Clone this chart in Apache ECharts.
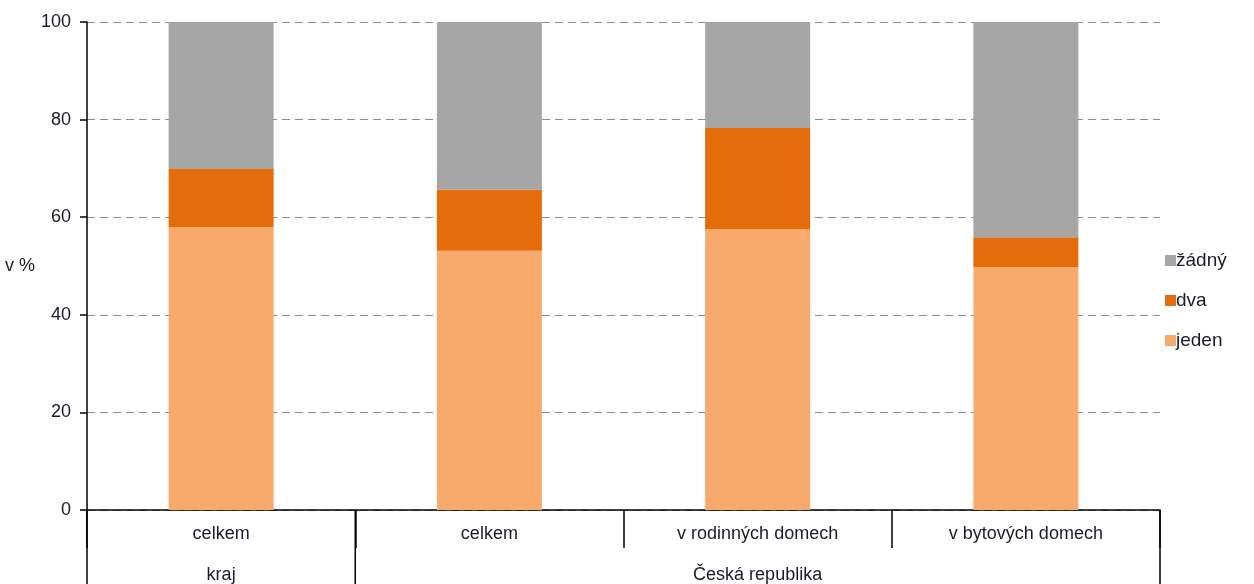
<!DOCTYPE html>
<html>
<head>
<meta charset="utf-8">
<script src="https://cdn.jsdelivr.net/npm/echarts@6/dist/echarts.min.js"></script>
<style>
  html, body { margin: 0; padding: 0; background: #fff; }
  #chart { width: 1254px; height: 584px; }
</style>
</head>
<body>
<div id="chart"></div>
<script>
  // kategorie a skupiny
  var categories = ['celkem', 'celkem', 'v rodinných domech', 'v bytových domech'];
  var groupLabels = ['kraj', '', 'Česká republika', ''];
  var groupStarts = [0, 1];          // index kategorie, kde skupina začíná
  var yTicks = [0, 20, 40, 60, 80, 100];

  // hodnoty v %
  var jeden = [58.0, 53.1, 57.6, 49.8];
  var dva   = [11.9, 12.5, 20.7, 6.1];
  var zadny = [30.1, 34.4, 21.7, 44.1];

  var font = 'Liberation Sans, Arial, sans-serif';
  var txt = '#1a1a2e';
  var fs = 18;

  var myChart = echarts.init(document.getElementById('chart'));

  myChart.setOption({
    animation: false,
    grid: { left: 87, right: 94, top: 22, bottom: 74, containLabel: false, outerBoundsMode: 'none' },
    legend: {
      orient: 'vertical',
      left: 1160,
      top: 246,
      itemGap: 21,
      itemWidth: 11,
      itemHeight: 11,
      icon: 'rect',
      data: ['žádný', 'dva', 'jeden'],
      textStyle: { fontFamily: font, fontSize: 19, color: txt, padding: [0, 0, 0, -5] }
    },
    xAxis: [{
      type: 'category',
      data: categories,
      position: 'bottom',
      axisLine: { lineStyle: { color: '#000', width: 1.5 } },
      axisTick: { show: true, length: 38, lineStyle: { color: '#000', width: 1.5 } },
      axisLabel: { interval: 0, margin: 15, fontFamily: font, fontSize: fs, color: txt }
    }, {
      type: 'category',
      data: groupLabels,
      position: 'bottom',
      offset: 41,
      axisLine: { show: false },
      axisTick: { show: false },
      axisLabel: { interval: 0, margin: 15, fontFamily: font, fontSize: fs, color: txt }
    }],
    yAxis: {
      type: 'value',
      min: 0,
      max: 100,
      interval: 20,
      name: 'v %',
      nameLocation: 'middle',
      nameRotate: 0,
      nameGap: 47,
      nameTextStyle: { fontFamily: font, fontSize: fs, color: txt, align: 'right' },
      axisLine: { show: true, lineStyle: { color: '#000', width: 1.5 } },
      axisTick: { show: true, length: 7, lineStyle: { color: '#000', width: 1.5 } },
      axisLabel: { margin: 16, fontFamily: font, fontSize: fs, color: txt },
      splitLine: { lineStyle: { color: '#8c8c8c', type: [8, 5], width: 1.2 } }
    },
    series: [{
      name: 'jeden', type: 'bar', stack: 'a', barWidth: 105, data: jeden,
      itemStyle: { color: '#f8aa6c' }
    }, {
      name: 'dva', type: 'bar', stack: 'a', barWidth: 105, data: dva,
      itemStyle: { color: '#e46c0a' }
    }, {
      name: 'žádný', type: 'bar', stack: 'a', barWidth: 105, data: zadny,
      itemStyle: { color: '#a6a6a6' }
    }]
  });

  // dlouhé oddělovací čáry skupin pod osou
  var gridRect = myChart.getModel().getComponent('grid').coordinateSystem.getRect();
  var x0 = myChart.convertToPixel({ xAxisIndex: 0 }, 0);
  var x1 = myChart.convertToPixel({ xAxisIndex: 0 }, 1);
  var band = x1 - x0;
  var bottomY = gridRect.y + gridRect.height;
  var lines = [];
  groupStarts.concat([categories.length]).forEach(function (i) {
    var x = x0 - band / 2 + i * band;
    lines.push({
      type: 'line',
      shape: { x1: x, y1: bottomY, x2: x, y2: 584 },
      style: { stroke: '#000', lineWidth: 1.5 }
    });
  });
  myChart.setOption({ graphic: lines });
</script>
</body>
</html>
